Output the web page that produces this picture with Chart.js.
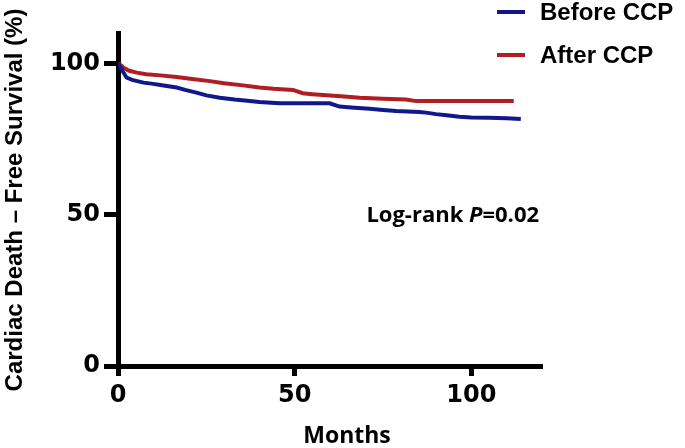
<!DOCTYPE html>
<html>
<head>
<meta charset="utf-8">
<script src="https://cdn.jsdelivr.net/npm/chart.js@4"></script>
<style>
  html, body { margin: 0; padding: 0; background: #fff; }
  #wrap { width: 685px; height: 448px; }
</style>
</head>
<body>
<div id="wrap"><canvas id="kmChart" width="685" height="448"></canvas></div>
<script>
// Kaplan-Meier points (months, % survival)
const beforeMonths = [0, 0.8, 1.5, 2.4, 4, 7.2, 10, 12, 16.6, 19, 22.2, 25, 28.8, 33, 37.3, 40, 45.8, 59.9, 62.7, 66, 71.2, 75, 78.7, 85.3, 87.2, 90, 93, 96.6, 100, 105, 110, 114];
const beforeSurv = [100, 98.5, 97, 95.3, 94.5, 93.6, 93.2, 92.8, 92, 91.2, 90.3, 89.4, 88.6, 88, 87.5, 87.2, 86.8, 86.8, 85.7, 85.4, 85, 84.6, 84.2, 83.9, 83.7, 83.2, 82.8, 82.3, 82.1, 82, 81.8, 81.6];

const afterMonths = [0, 1, 1.5, 3, 5.3, 8, 12, 16.6, 21, 26, 30, 35.4, 40, 44, 49.5, 52.3, 55, 59, 64, 68.4, 75, 81.5, 84.4, 112];
const afterSurv = [100, 99.2, 98.6, 97.6, 96.9, 96.4, 96, 95.5, 94.8, 94.1, 93.4, 92.7, 92, 91.6, 91.2, 90.1, 89.8, 89.4, 89, 88.6, 88.3, 88, 87.5, 87.5];

const seriesLabels = ['Before CCP', 'After CCP'];
const seriesColors = ['#10188c', '#b01e24'];
const xTicks = [0, 50, 100];
const yTicks = [0, 50, 100];
const yTitle = 'Cardiac Death \u2013 Free Survival (%)';
const xTitle = 'Months';

const toPoints = (xs, ys) => xs.map((x, i) => ({ x: x, y: ys[i] }));

// axis titles, legend and the log-rank note
const annotations = {
  id: 'annotations',
  afterDraw(chart) {
    const ctx = chart.ctx;
    const xs = chart.scales.x;
    const ys = chart.scales.y;
    ctx.save();
    ctx.fillStyle = '#000';

    // y title
    ctx.save();
    ctx.translate(22, 200);
    ctx.rotate(-Math.PI / 2);
    ctx.font = 'bold 24px "Liberation Sans"';
    ctx.textAlign = 'center';
    ctx.textBaseline = 'alphabetic';
    ctx.fillText(yTitle, 0, 0);
    ctx.restore();

    // x title
    ctx.font = 'bold 23px "Open Sans"';
    ctx.textAlign = 'center';
    ctx.textBaseline = 'middle';
    ctx.fillText(xTitle, 347, 436);

    // log-rank text
    ctx.textAlign = 'left';
    ctx.font = 'bold 22px "Open Sans"';
    const px = xs.getPixelForValue(70.3);
    const py = ys.getPixelForValue(49.7);
    ctx.fillText('Log-rank ', px, py);
    let w = ctx.measureText('Log-rank ').width;
    ctx.font = 'italic bold 22px "Open Sans"';
    ctx.fillText('P', px + w, py);
    w += ctx.measureText('P').width;
    ctx.font = 'bold 22px "Open Sans"';
    ctx.fillText('=0.02', px + w, py);

    // legend
    const rows = [12, 55];
    ctx.font = 'bold 24px "Liberation Sans"';
    seriesLabels.forEach((lab, i) => {
      ctx.strokeStyle = seriesColors[i];
      ctx.lineWidth = 4;
      ctx.beginPath();
      ctx.moveTo(497, rows[i]);
      ctx.lineTo(525, rows[i]);
      ctx.stroke();
      ctx.fillText(lab, 540, rows[i] + 1);
    });
    ctx.restore();
  }
};

const ctx = document.getElementById('kmChart').getContext('2d');
new Chart(ctx, {
  type: 'line',
  data: {
    datasets: [
      {
        label: seriesLabels[0],
        data: toPoints(beforeMonths, beforeSurv),
        borderColor: seriesColors[0],
        borderWidth: 4,
        pointRadius: 0,
        fill: false,
      },
      {
        label: seriesLabels[1],
        data: toPoints(afterMonths, afterSurv),
        borderColor: seriesColors[1],
        borderWidth: 4,
        pointRadius: 0,
        fill: false,
      },
    ],
  },
  options: {
    responsive: false,
    animation: false,
    devicePixelRatio: 1,
    layout: { padding: { left: 0, right: 143, top: 33, bottom: 0 } },
    plugins: {
      legend: { display: false },
      tooltip: { enabled: false },
    },
    scales: {
      x: {
        type: 'linear',
        min: 0,
        max: 120,
        afterFit: (s) => { s.height = 82; },
        afterBuildTicks: (s) => { s.ticks = xTicks.map(v => ({ value: v })); },
        border: { display: true, color: '#000', width: 5 },
        grid: { drawOnChartArea: false, drawTicks: true, tickLength: 10, tickWidth: 5, tickColor: '#000' },
        ticks: {
          color: '#000',
          padding: 5,
          maxRotation: 0,
          font: { family: '"DejaVu Sans"', size: 24, weight: 'bold' },
        },
      },
      y: {
        min: 0,
        max: 110,
        afterFit: (s) => { s.width = 118; },
        afterBuildTicks: (s) => { s.ticks = yTicks.map(v => ({ value: v })); },
        border: { display: true, color: '#000', width: 5 },
        grid: { drawOnChartArea: false, drawTicks: true, tickLength: 14, tickWidth: 5, tickColor: '#000' },
        ticks: {
          color: '#000',
          padding: 4,
          font: { family: '"DejaVu Sans"', size: 24, weight: 'bold' },
        },
      },
    },
  },
  plugins: [annotations],
});
</script>
</body>
</html>
